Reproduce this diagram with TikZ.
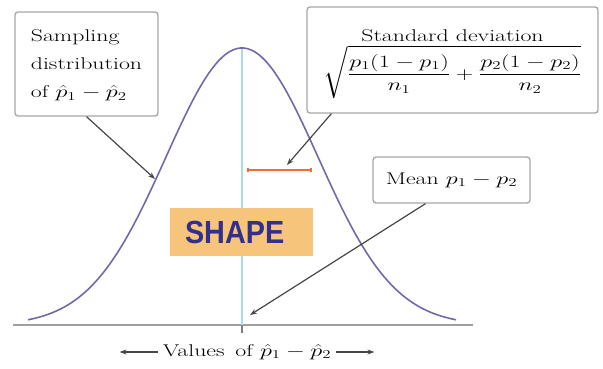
\documentclass[tikz,border=0pt]{standalone}
\usepackage{amsmath}
\usepackage{graphicx}
\usepackage{fontspec}
\newfontfamily\shapefont{Liberation Sans}
\usetikzlibrary{arrows.meta}
\definecolor{bellblue}{RGB}{115,105,170}
\definecolor{meancyan}{RGB}{170,220,228}
\definecolor{sdorange}{RGB}{240,110,50}
\definecolor{shapefill}{RGB}{246,196,122}
\definecolor{shapeink}{RGB}{50,48,140}
\definecolor{pointergray}{RGB}{70,70,70}
\newcommand{\stretchx}[1]{\scalebox{1.4}[1]{#1}}
\tikzset{
  callout/.style={draw=gray!70, line width=1.3pt, rounded corners=3pt, fill=white, inner sep=0pt,
    font=\fontsize{17}{28}\selectfont},
  pointer/.style={-{Stealth[length=7pt,width=5pt]}, pointergray, line width=1.2pt},
}
\begin{document}
\begin{tikzpicture}[x=1pt, y=-1pt]
        \useasboundingbox (0,0) rectangle (603,368);
        \coordinate (axisL) at (13,325);
        \coordinate (axisR) at (473,325);
        \coordinate (peak) at (242,48);
        \coordinate (foot) at (242,325);
        \coordinate (sdL) at (247,170);
        \coordinate (sdR) at (312,170);
        \coordinate (sampTip) at (155,179);
        \coordinate (sdTip) at (287,165);
        \coordinate (meanTip) at (250,315);
        \draw[gray!75, line width=2pt] (axisL) -- (axisR);
        \draw[meancyan, line width=1.5pt] (peak) -- (foot);
        \draw[gray, line width=1.5pt] (foot) -- ++(0,8);
        \draw[bellblue, line width=1.6pt] plot[domain=28:456, samples=120] (\x, {325-277*exp(-0.5*((\x-242)/76)^2)});
        \node[fill=shapefill, minimum width=143pt, minimum height=48pt, inner xsep=15pt, text width=113pt, align=left,
          font=\shapefont\bfseries\fontsize{32}{32}\selectfont, text=shapeink] (shape) at (241.5,232) {\scalebox{0.9}[1]{SHAPE}};
        \draw[sdorange, line width=1.6pt, {Bar[width=4pt]}-{Bar[width=4pt]}] (sdL) -- (sdR);
        \node[callout, minimum width=143pt, minimum height=104pt] (samp) at (86.5,64)
          {\stretchx{\begin{tabular}{@{}l@{}}Sampling\\distribution\\of $\hat{p}_1-\hat{p}_2$\end{tabular}}};
        \node[callout, minimum width=291pt, minimum height=106pt] (sd) at (452.5,60)
          {\stretchx{\begin{tabular}{@{}c@{}}Standard deviation\\[-4pt]
            $\displaystyle\sqrt{\frac{p_1(1-p_1)}{n_1}+\frac{p_2(1-p_2)}{n_2}}$\end{tabular}}};
        \node[callout, minimum width=157pt, minimum height=46pt] (mean) at (451.5,180)
          {\stretchx{Mean $p_1-p_2$}};
        \node[inner sep=0pt, font=\fontsize{17}{19}\selectfont] (vals) at (247,352)
          {\stretchx{Values\hspace{0.45em}of $\hat{p}_1-\hat{p}_2$}};
        \draw[pointer] (samp.south) -- (sampTip);
        \draw[pointer] ([xshift=25pt]sd.south west) -- (sdTip);
        \draw[pointer] ([xshift=-26pt]mean.south) -- (meanTip);
        \draw[pointer] ([xshift=-5pt]vals.west) -- ++(-38,0);
        \draw[pointer] ([xshift=5pt]vals.east) -- ++(38,0);
    \end{tikzpicture}
\end{document}
